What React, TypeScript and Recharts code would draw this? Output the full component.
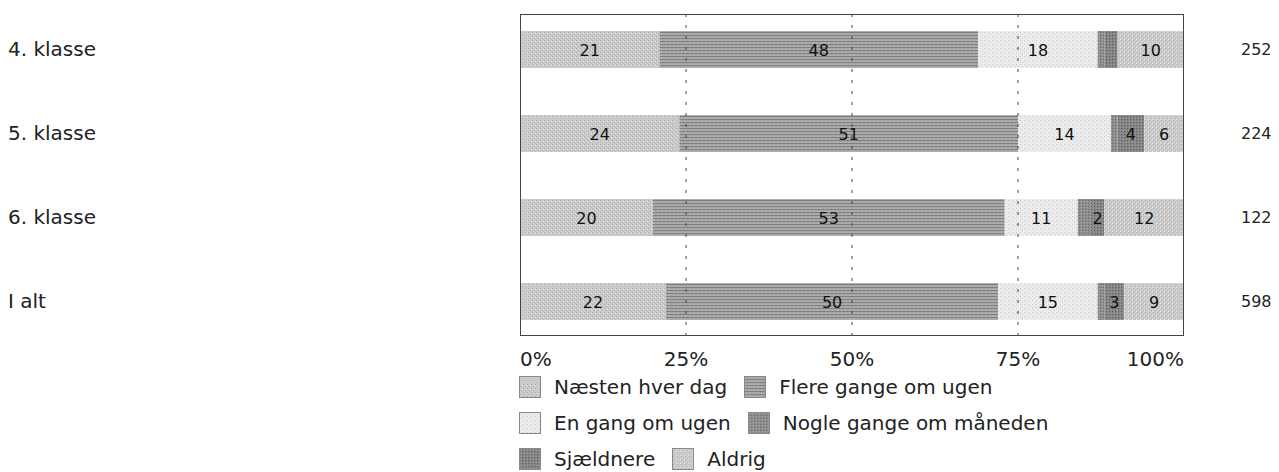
import React from "react";
import { BarChart, Bar, XAxis, YAxis, ReferenceLine, LabelList } from "recharts";

const categories = ["4. klasse", "5. klasse", "6. klasse", "I alt"];
const totals = ["252", "224", "122", "598"];
const naestenHverDag = [21, 24, 20, 22];
const flereGange = [48, 51, 53, 50];
const enGang = [18, 14, 11, 15];
const nogleGange = [1, 1, 2, 1];
const sjaeldnere = [2, 4, 2, 3];
const aldrig = [10, 6, 12, 9];
// shown label text per segment ("" = no label in the reference)
const naestenLabels = ["21", "24", "20", "22"];
const flereLabels = ["48", "51", "53", "50"];
const enGangLabels = ["18", "14", "11", "15"];
const nogleLabels = ["", "", "", ""];
const sjaeldnereLabels = ["", "4", "2", "3"];
const aldrigLabels = ["10", "6", "12", "9"];
const xTicks = [0, 25, 50, 75, 100];
const gridTicks = [25, 50, 75];

const seriesNames = [
  "Næsten hver dag",
  "Flere gange om ugen",
  "En gang om ugen",
  "Nogle gange om måneden",
  "Sjældnere",
  "Aldrig",
];
const seriesKeys = ["naesten", "flere", "engang", "nogle", "sjaeldnere", "aldrig"];
const seriesFills = ["url(#pNaesten)", "url(#pFlere)", "url(#pEngang)", "url(#pNogle)", "url(#pSjaeldnere)", "url(#pAldrig)"];
const seriesLabels = [naestenLabels, flereLabels, enGangLabels, nogleLabels, sjaeldnereLabels, aldrigLabels];

const data = categories.map((c, i) => ({
  cat: c,
  total: totals[i],
  naesten: naestenHverDag[i],
  flere: flereGange[i],
  engang: enGang[i],
  nogle: nogleGange[i],
  sjaeldnere: sjaeldnere[i],
  aldrig: aldrig[i],
}));

const FONT = "'DejaVu Sans', Verdana, sans-serif";
const W = 1263;
const H = 464;
const M = { top: 6, right: 0, bottom: 106, left: 0 };
const YW = 512;
const RW = 87;
const XH = 30;

const CatTick = (props: any) => {
  const { y, payload } = props;
  return (
    <text x={0} y={y} dy={7} textAnchor="start" fontFamily={FONT} fontSize={20} fill="#222">
      {payload.value}
    </text>
  );
};

const TotalTick = (props: any) => {
  const { y, index } = props;
  return (
    <text x={W - RW + 57} y={y} dy={6} textAnchor="start" fontFamily={FONT} fontSize={16} fill="#222">
      {totals[index]}
    </text>
  );
};

const XTick = (props: any) => {
  const { x, y, payload, index } = props;
  const anchor = index === 0 ? "start" : index === xTicks.length - 1 ? "end" : "middle";
  return (
    <text x={x} y={y} dy={22} textAnchor={anchor} fontFamily={FONT} fontSize={20} fill="#222">
      {payload.value}%
    </text>
  );
};

const makeLabel = (labels: string[]) => (props: any) => {
  const { x, y, width, height, index } = props;
  const t = labels[index];
  if (!t) return null;
  return (
    <text x={x + width / 2} y={y + height / 2} dy={6} textAnchor="middle" fontFamily={FONT} fontSize={16} fill="#111">
      {t}
    </text>
  );
};

const PatternDefs = () => (
  <>
    <pattern id="pNaesten" width="4" height="4" patternUnits="userSpaceOnUse">
      <rect width="4" height="4" fill="#cbcbcb" />
      <rect x="0" y="0" width="1" height="1" fill="#a8a8a8" />
      <rect x="2" y="2" width="1" height="1" fill="#b0b0b0" />
      <rect x="3" y="1" width="1" height="1" fill="#e0e0e0" />
    </pattern>
    <pattern id="pFlere" width="4" height="3" patternUnits="userSpaceOnUse">
      <rect width="4" height="3" fill="#a8a8a8" />
      <rect x="0" y="0" width="4" height="1" fill="#808080" />
      <rect x="1" y="2" width="1" height="1" fill="#bcbcbc" />
    </pattern>
    <pattern id="pEngang" width="4" height="4" patternUnits="userSpaceOnUse">
      <rect width="4" height="4" fill="#ececec" />
      <rect x="0" y="0" width="1" height="1" fill="#c8c8c8" />
      <rect x="2" y="2" width="1" height="1" fill="#d0d0d0" />
    </pattern>
    <pattern id="pNogle" width="3" height="3" patternUnits="userSpaceOnUse">
      <rect width="3" height="3" fill="#8e8e8e" />
      <rect x="0" y="0" width="1" height="1" fill="#6a6a6a" />
      <rect x="2" y="1" width="1" height="1" fill="#a8a8a8" />
    </pattern>
    <pattern id="pSjaeldnere" width="3" height="3" patternUnits="userSpaceOnUse">
      <rect width="3" height="3" fill="#858585" />
      <rect x="0" y="0" width="1" height="1" fill="#5e5e5e" />
      <rect x="2" y="2" width="1" height="1" fill="#a0a0a0" />
    </pattern>
    <pattern id="pAldrig" width="4" height="4" patternUnits="userSpaceOnUse">
      <rect width="4" height="4" fill="#cdcdcd" />
      <rect x="1" y="0" width="1" height="1" fill="#acacac" />
      <rect x="3" y="2" width="1" height="1" fill="#b2b2b2" />
      <rect x="0" y="3" width="1" height="1" fill="#e2e2e2" />
    </pattern>
  </>
);

const legendRows = [[0, 1], [2, 3], [4, 5]];

export default function App() {
  const plotLeft = M.left + YW;
  const plotTop = M.top;
  const plotW = W - M.right - RW - plotLeft;
  const plotH = H - M.top - M.bottom - XH;
  return (
    <div style={{ position: "relative", width: W, height: H, fontFamily: FONT, overflow: "hidden" }}>
      <svg width={0} height={0} style={{ position: "absolute" }}>
        <defs>
          <PatternDefs />
        </defs>
      </svg>
      <BarChart width={W} height={H} data={data} layout="vertical" margin={M} barSize={37}>
        <XAxis
          type="number"
          domain={[0, 100]}
          ticks={xTicks}
          axisLine={false}
          tickLine={false}
          tick={<XTick />}
          height={XH}
          interval={0}
        />
        <YAxis
          yAxisId="left"
          type="category"
          dataKey="cat"
          width={YW}
          axisLine={false}
          tickLine={false}
          tick={<CatTick />}
          padding={{ top: -7, bottom: -7 }}
          interval={0}
        />
        <YAxis
          yAxisId="right"
          orientation="right"
          type="category"
          dataKey="total"
          width={RW}
          axisLine={false}
          tickLine={false}
          tick={<TotalTick />}
          padding={{ top: -7, bottom: -7 }}
          interval={0}
        />
        {gridTicks.map((t) => (
          <ReferenceLine key={t} x={t} yAxisId="left" stroke="#444" strokeWidth={1} strokeDasharray="3 8" />
        ))}
        {seriesKeys.map((k, i) => (
          <Bar
            key={k}
            dataKey={k}
            yAxisId="left"
            name={seriesNames[i]}
            stackId="a"
            fill={seriesFills[i]}
            isAnimationActive={false}
          >
            <LabelList dataKey={k} content={makeLabel(seriesLabels[i])} />
          </Bar>
        ))}
      </BarChart>
      <div
        style={{
          position: "absolute",
          left: plotLeft,
          top: plotTop,
          width: plotW,
          height: plotH,
          border: "1px solid #444",
          boxSizing: "border-box",
          pointerEvents: "none",
        }}
      />
      <div style={{ position: "absolute", left: 511, top: 361 }}>
        {legendRows.map((row, ri) => (
          <div key={ri} style={{ display: "flex", alignItems: "center", height: 36 }}>
            {row.map((si) => (
              <div key={si} style={{ display: "flex", alignItems: "center", marginRight: 17 }}>
                <svg width={22} height={22} style={{ marginRight: 13, display: "block" }}>
                  <rect x={0.5} y={0.5} width={21} height={21} fill={seriesFills[si]} stroke="#888" />
                </svg>
                <span style={{ fontSize: 20, lineHeight: "24px", color: "#222", whiteSpace: "nowrap" }}>
                  {seriesNames[si]}
                </span>
              </div>
            ))}
          </div>
        ))}
      </div>
    </div>
  );
}
